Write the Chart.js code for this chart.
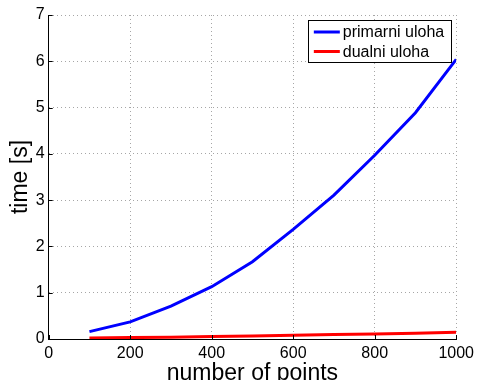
<!DOCTYPE html>
<html>
<head>
<meta charset="utf-8">
<script src="https://cdn.jsdelivr.net/npm/chart.js@4/dist/chart.umd.min.js"></script>
<style>
  html, body { margin: 0; padding: 0; background: #fff; }
  #wrap { width: 479px; height: 380px; position: relative; }
</style>
</head>
<body>
<div id="wrap"><canvas id="timeChart"></canvas></div>
<script>
// 데이터
const points = [100, 200, 300, 400, 500, 600, 700, 800, 900, 1000];
const primarni = [0.16, 0.37, 0.71, 1.13, 1.67, 2.37, 3.11, 3.97, 4.89, 6.04];
const dualni = [0.02, 0.03, 0.04, 0.055, 0.065, 0.08, 0.095, 0.11, 0.125, 0.145];
const xTicks = [0, 200, 400, 600, 800, 1000];
const yTicks = [0, 1, 2, 3, 4, 5, 6, 7];

const FONT = 'Arial, "Liberation Sans", Helvetica, sans-serif';

/* ── 축 안쪽 눈금 (MATLAB 스타일) ── */
const innerTicksPlugin = {
  id: 'innerTicks',
  afterDraw(chart) {
    const { ctx, chartArea: a, scales } = chart;
    const len = 4;
    ctx.save();
    ctx.strokeStyle = '#000';
    ctx.lineWidth = 1;
    ctx.beginPath();
    xTicks.forEach((v) => {
      const x = Math.round(scales.x.getPixelForValue(v)) + 0.5;
      ctx.moveTo(x, a.bottom);
      ctx.lineTo(x, a.bottom - len);
    });
    yTicks.forEach((v) => {
      const y = Math.round(scales.y.getPixelForValue(v)) + 0.5;
      ctx.moveTo(a.left, y);
      ctx.lineTo(a.left + len, y);
    });
    ctx.stroke();
    ctx.restore();
  },
};

/* ── 그래프 안쪽 범례 박스 ── */
const boxLegendPlugin = {
  id: 'boxLegend',
  afterDraw(chart) {
    const { ctx, chartArea: a } = chart;
    const ds = chart.data.datasets;
    ctx.save();
    ctx.font = '16px ' + FONT;
    const textW = Math.max(...ds.map((d) => ctx.measureText(d.label).width));
    const lineW = 26, gap = 3, padL = 6, padR = 7, rowH = 19.5;
    const w = padL + lineW + gap + textW + padR;
    const h = ds.length * rowH + 3;
    const x0 = a.right - 5 - w;
    const y0 = a.top + 5;
    ctx.fillStyle = '#fff';
    ctx.fillRect(x0, y0, w, h);
    ctx.strokeStyle = '#000';
    ctx.lineWidth = 1;
    ctx.strokeRect(Math.round(x0) + 0.5, Math.round(y0) + 0.5, Math.round(w), Math.round(h));
    ds.forEach((d, i) => {
      const cy = y0 + 12 + i * rowH;
      ctx.strokeStyle = d.borderColor;
      ctx.lineWidth = 3;
      ctx.beginPath();
      ctx.moveTo(x0 + padL, cy);
      ctx.lineTo(x0 + padL + lineW, cy);
      ctx.stroke();
      ctx.fillStyle = '#000';
      ctx.textBaseline = 'middle';
      ctx.fillText(d.label, x0 + padL + lineW + gap, cy + 1);
    });
    ctx.restore();
  },
};

const gridStyle = {
  color: '#a6a6a6',
  lineWidth: 1,
  tickLength: 0,
  drawTicks: false,
};

new Chart(document.getElementById('timeChart'), {
  type: 'line',
  data: {
    datasets: [
      {
        label: 'primarni uloha',
        data: points.map((p, i) => ({ x: p, y: primarni[i] })),
        borderColor: '#0000ff',
        borderWidth: 3,
        pointRadius: 0,
        tension: 0,
      },
      {
        label: 'dualni uloha',
        data: points.map((p, i) => ({ x: p, y: dualni[i] })),
        borderColor: '#ff0000',
        borderWidth: 3,
        pointRadius: 0,
        tension: 0,
      },
    ],
  },
  options: {
    responsive: true,
    maintainAspectRatio: false,
    animation: false,
    layout: { padding: { top: 15, right: 19, left: 0, bottom: 0 } },
    plugins: { legend: { display: false }, tooltip: { enabled: false } },
    scales: {
      x: {
        type: 'linear',
        min: 0,
        max: 1000,
        afterBuildTicks(scale) { scale.ticks = xTicks.map((v) => ({ value: v })); },
        afterFit(scale) { scale.height = 41; },
        grid: { ...gridStyle },
        border: { display: true, color: '#000', width: 1, dash: [1, 3] },
        ticks: {
          color: '#000',
          padding: 5,
          font: { family: FONT, size: 16 },
          maxRotation: 0,
          callback: (v) => String(v),
        },
        title: {
          display: true,
          text: 'number of points',
          color: '#000',
          font: { family: FONT, size: 23, lineHeight: 1 },
          padding: { top: 0, bottom: -5 },
        },
      },
      y: {
        min: 0,
        max: 7,
        afterBuildTicks(scale) { scale.ticks = yTicks.map((v) => ({ value: v })); },
        afterFit(scale) { scale.width = 48.7; },
        grid: { ...gridStyle },
        border: { display: true, color: '#000', width: 1, dash: [1, 3] },
        ticks: { color: '#000', padding: 4, font: { family: FONT, size: 16 }, callback: (v) => String(v) },
        title: {
          display: true,
          text: 'time [s]',
          color: '#000',
          font: { family: FONT, size: 23, lineHeight: 1 },
          padding: { top: 9, bottom: 0 },
        },
      },
    },
  },
  plugins: [innerTicksPlugin, boxLegendPlugin],
});
</script>
</body>
</html>
